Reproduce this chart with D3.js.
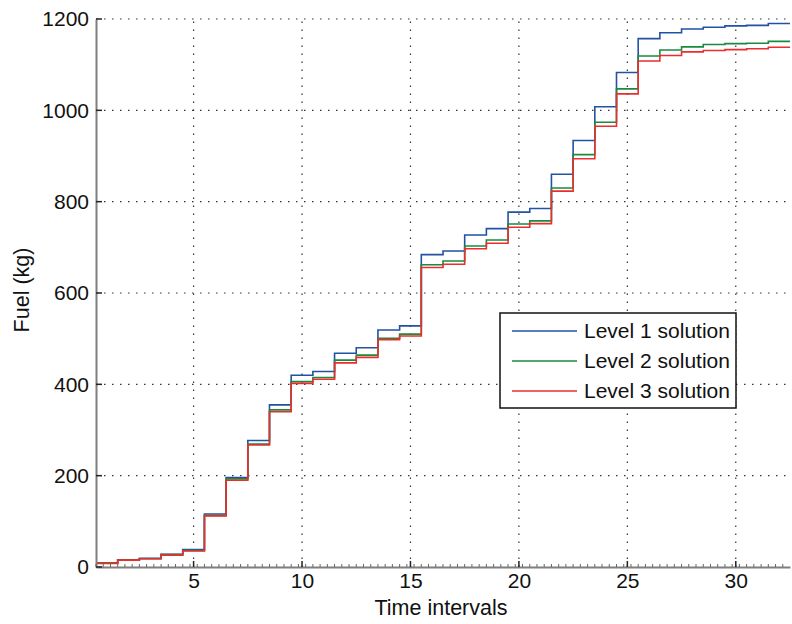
<!DOCTYPE html>
<html>
<head>
<meta charset="utf-8">
<script src="https://cdn.jsdelivr.net/npm/d3@7"></script>
<style>
  body { margin: 0; background: #fff; }
  svg { display: block; font-family: "Liberation Sans", Arial, sans-serif; }
</style>
</head>
<body>
<svg id="chart" width="792" height="624"></svg>
<script>
// time intervals 1..32, fuel consumed (kg)
const intervals = d3.range(1, 33);
const level1 = [9, 16, 19, 28, 38, 116, 196, 277, 355, 420, 428, 468, 480, 519, 528, 684,
    692, 727, 741, 777, 785, 860, 934, 1008, 1083, 1157, 1170, 1178, 1182, 1185, 1186, 1190];
const level2 = [9, 15, 18, 27, 36, 113, 193, 269, 344, 406, 415, 453, 464, 501, 510, 662,
    670, 703, 716, 751, 758, 830, 903, 974, 1047, 1119, 1132, 1139, 1144, 1146, 1147, 1151];
const level3 = [8, 15, 18, 26, 35, 112, 190, 267, 340, 402, 411, 447, 459, 498, 506, 656,
    663, 697, 709, 744, 752, 823, 894, 965, 1036, 1108, 1120, 1128, 1131, 1133, 1135, 1138];
const seriesNames = ["Level 1 solution", "Level 2 solution", "Level 3 solution"];
const seriesColors = ["#2252a3", "#1a8a40", "#ec2d2d"];
const xTicks = [5, 10, 15, 20, 25, 30];
const yTicks = [0, 200, 400, 600, 800, 1000, 1200];

const svg = d3.select("#chart");
const plotLeft = 96, plotRight = 790, plotTop = 19, plotBottom = 567;

const x = d3.scaleLinear().domain([0.5, 32.5]).range([plotLeft, plotRight]);
const y = d3.scaleLinear().domain([0, 1200]).range([plotBottom, plotTop]);

//dotted grid
const grid = svg.append("g")
    .attr("stroke", "#333")
    .attr("stroke-width", 1.2)
    .attr("stroke-dasharray", "1.5,6.5");
for (const t of xTicks) {
    grid.append("line").attr("x1", x(t)).attr("x2", x(t)).attr("y1", plotBottom).attr("y2", plotTop);
}
for (const t of yTicks.slice(1)) {
    grid.append("line").attr("x1", plotLeft).attr("x2", plotRight + 2).attr("y1", y(t)).attr("y2", y(t));
}

//stairs: each interval spans [i-0.5, i+0.5]
const stair = d3.line()
    .x(d => x(d[0]))
    .y(d => y(d[1]))
    .curve(d3.curveStepAfter);

const allSeries = [level1, level2, level3];
allSeries.forEach((values, k) => {
    const pts = intervals.map((t, i) => [t - 0.5, values[i]]);
    pts.push([intervals[intervals.length - 1] + 0.5, values[values.length - 1]]);
    svg.append("path")
        .datum(pts)
        .attr("d", stair)
        .attr("fill", "none")
        .attr("stroke", seriesColors[k])
        .attr("stroke-width", 1.6);
});

//axes
const xAxis = svg.append("g").attr("transform", `translate(0,${plotBottom})`)
    .call(d3.axisBottom(x).tickValues(xTicks).tickFormat(d3.format("d")).tickSize(0).tickPadding(6));
const yAxis = svg.append("g").attr("transform", `translate(${plotLeft},0)`)
    .call(d3.axisLeft(y).tickValues(yTicks).tickFormat(d3.format("d")).tickSize(0).tickPadding(7));

for (const ax of [xAxis, yAxis]) {
    ax.select(".domain").attr("stroke", "#7f7f7f").attr("stroke-width", 2);
    ax.selectAll("text").attr("font-size", 21).attr("fill", "#111")
        .attr("font-family", "'Liberation Sans', Arial, sans-serif");
}

//minor ticks on the time axis
const minor = d3.range(0.5, 32.5, 1 / 3);
svg.append("g").selectAll("line").data(minor).join("line")
    .attr("x1", d => x(d)).attr("x2", d => x(d))
    .attr("y1", plotBottom).attr("y2", plotBottom - 3)
    .attr("stroke", "#666").attr("stroke-width", 1);
svg.append("g").selectAll("line").data(xTicks).join("line")
    .attr("x1", d => x(d)).attr("x2", d => x(d))
    .attr("y1", plotBottom).attr("y2", plotBottom - 6)
    .attr("stroke", "#222").attr("stroke-width", 1.5);
svg.append("g").selectAll("line").data(yTicks).join("line")
    .attr("x1", plotLeft).attr("x2", plotLeft + 6)
    .attr("y1", d => y(d)).attr("y2", d => y(d))
    .attr("stroke", "#222").attr("stroke-width", 1.5);

//axis labels
svg.append("text")
    .attr("x", (plotLeft + plotRight) / 2 - 2).attr("y", 615)
    .attr("text-anchor", "middle").attr("font-size", 21.5).attr("fill", "#111")
    .text("Time intervals");
svg.append("text")
    .attr("transform", "translate(29,290) rotate(-90)")
    .attr("text-anchor", "middle").attr("font-size", 21.5).attr("fill", "#111")
    .text("Fuel (kg)");

//legend
const legend = svg.append("g").attr("transform", "translate(500,313)");
legend.append("rect")
    .attr("width", 236).attr("height", 95)
    .attr("fill", "#fff").attr("stroke", "#111").attr("stroke-width", 1.5);
seriesNames.forEach((name, k) => {
    const ly = 18 + k * 30;
    legend.append("line")
        .attr("x1", 12).attr("x2", 77).attr("y1", ly).attr("y2", ly)
        .attr("stroke", seriesColors[k]).attr("stroke-width", 1.5);
    legend.append("text")
        .attr("x", 84).attr("y", ly).attr("dy", "0.35em")
        .attr("font-size", 21).attr("fill", "#111")
        .text(name);
});
</script>
</body>
</html>
